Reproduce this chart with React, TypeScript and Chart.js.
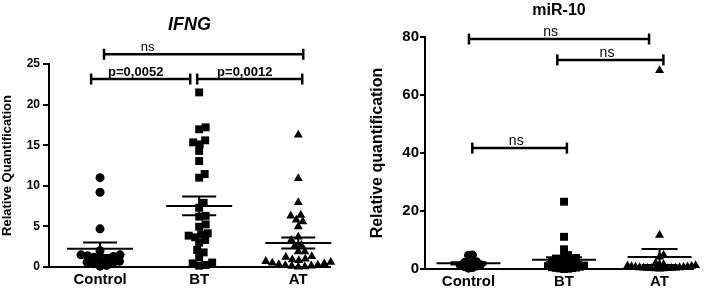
import React, { useEffect, useRef } from 'react';
import { Chart, registerables } from 'chart.js';

Chart.register(...registerables);

// ---------- data ----------
const categories = ['Control', 'BT', 'AT'];

// IFNG panel (relative quantification)
const ifngControl = [11.0, 9.2, 4.7, 2.0, 1.5, 1.5, 1.4, 1.3, 1.2, 1.0, 0.9, 0.7, 0.6, 0.5, 0.4, 0.2, 0.1];
const ifngBT = [21.5, 17.2, 16.96, 15.6, 15.35, 15.1, 14.3, 13.05, 11.45, 11.0, 7.9, 7.3, 6.3, 6.2, 5.25, 4.96, 4.15, 4.0, 3.86, 3.66, 3.33, 3.0, 2.1, 1.8, 1.19, 0.55, 0.45, 0.25, 0.16];
const ifngAT = [16.26, 10.9, 7.96, 6.4, 6.28, 5.8, 5.6, 4.97, 3.7, 3.3, 2.7, 2.6, 1.9, 1.9, 1.3, 1.2, 1.0, 0.9, 0.8, 0.7, 0.6, 0.5, 0.4, 0.3, 0.25, 0.2, 0.15, 0.1, 0.05, 0.0];
const ifngYTicksMax = 25;
const ifngYStep = 5;
const ifngBracketLabels = ['ns', 'p=0,0052', 'p=0,0012'];
const ifngBracketSpans = [[0.04, 2.05], [-0.09, 0.91], [0.98, 2.04]];
const ifngBracketLevels = [26.2, 23.15, 23.15];
const ifngBracketLabelX = [0.48, 0.36, 1.46];

// miR-10 panel
const mirControl = [4.8, 4.7, 2.5, 2.2, 2.0, 1.8, 1.5, 1.2, 1.0, 0.8, 0.5, 0.3];
const mirBT = [23.2, 11.1, 6.8, 4.8, 4.2, 3.8, 3.6, 3.4, 3.2, 3.0, 2.8, 2.6, 2.4, 2.2, 2.0, 1.8, 1.6, 1.4, 1.2, 1.0, 0.8, 0.6, 0.5, 0.4, 0.3, 0.2, 0.1, 0.0];
const mirAT = [68.5, 11.7, 4.8, 4.2, 2.0, 1.6, 1.4, 1.2, 1.1, 1.0, 0.9, 0.8, 0.7, 0.6, 0.5, 0.5, 0.4, 0.4, 0.3, 0.3, 0.2, 0.2, 0.1, 0.1, 0.0];
const mirYTicksMax = 80;
const mirYStep = 20;
const mirBracketLabels = ['ns', 'ns', 'ns'];
const mirBracketSpans = [[0.005, 1.89], [0.93, 2.04], [0.04, 1.03]];
const mirBracketLevels = [79.3, 72.1, 41.7];
const mirBracketLabelX = [0.86, 1.45, 0.5];

const pointStyles = ['circle', 'rect', 'triangle'];
const pointRadii = [4.5, 5.6, 5.2];

const FONT = 'Arial, "Liberation Sans", Helvetica, sans-serif';

function mean(a: number[]) {
  return a.reduce((s, v) => s + v, 0) / a.length;
}
function sem(a: number[]) {
  const m = mean(a);
  const v = a.reduce((s, x) => s + (x - m) * (x - m), 0) / (a.length - 1);
  return Math.sqrt(v) / Math.sqrt(a.length);
}

// greedy beeswarm in pixel space, returns horizontal pixel offsets
function swarmOffsets(values: number[], yPix: (v: number) => number, diam: number): number[] {
  const order = values.map((_, i) => i).sort((a, b) => values[a] - values[b]);
  const placed: { x: number; y: number }[] = [];
  const offs = new Array(values.length).fill(0);
  const step = 0.5;
  order.forEach((idx) => {
    const py = yPix(values[idx]);
    let k = 0;
    let chosen = 0;
    while (k < 400) {
      const mag = Math.ceil(k / 2) * step;
      const cand = k % 2 === 1 ? mag : -mag;
      let ok = true;
      for (const p of placed) {
        const dy = p.y - py;
        if (Math.abs(dy) >= diam) continue;
        const dx = p.x - cand;
        if (dx * dx + dy * dy < diam * diam) { ok = false; break; }
      }
      if (ok) { chosen = cand; break; }
      k++;
    }
    placed.push({ x: chosen, y: py });
    offs[idx] = chosen;
  });
  return offs;
}

type PanelCfg = {
  groups: number[][];
  yMax: number;
  yStep: number;
  xMin: number;
  xMax: number;
  padTop: number;
  padRight: number;
  yAxisWidth: number;
  xAxisHeight: number;
  tickFont: number;
  xLabelFont: number;
  yTitle: string;
  yTitleFont: number;
  yTitlePad: number;
  tickLength: number;
  tickPadding: number;
  title: string;
  titleFont: string;
  titleY: number;
  bracketLabels: string[];
  bracketSpans: number[][];
  bracketLevels: number[];
  bracketLabelX: number[];
  bracketBold: boolean[];
  bracketFont: number;
  meanHalf: number;
  capHalf: number;
  swarmDiam: number;
};

function makeChart(canvas: HTMLCanvasElement, cfg: PanelCfg) {
  const overlay = {
    id: 'overlay',
    afterDatasetsDraw(chart: any) {
      const { ctx } = chart;
      const xs = chart.scales.x;
      const ys = chart.scales.y;
      ctx.save();
      ctx.strokeStyle = '#000';
      ctx.fillStyle = '#000';
      ctx.lineCap = 'butt';
      const seg = (x1: number, y1: number, x2: number, y2: number) => {
        ctx.beginPath();
        ctx.moveTo(x1, y1);
        ctx.lineTo(x2, y2);
        ctx.stroke();
      };
      // mean ± SEM
      ctx.lineWidth = 2;
      cfg.groups.forEach((vals, i) => {
        const m = mean(vals);
        const s = sem(vals);
        const cx = xs.getPixelForValue(i);
        const my = ys.getPixelForValue(m);
        const uy = ys.getPixelForValue(m + s);
        const ly = ys.getPixelForValue(Math.max(m - s, 0));
        seg(cx - cfg.meanHalf, my, cx + cfg.meanHalf, my);
        seg(cx, uy, cx, ly);
        seg(cx - cfg.capHalf, uy, cx + cfg.capHalf, uy);
        seg(cx - cfg.capHalf, ly, cx + cfg.capHalf, ly);
      });
      // brackets
      ctx.lineWidth = 2.5;
      cfg.bracketLabels.forEach((lab, i) => {
        const [a, b] = cfg.bracketSpans[i];
        const x1 = xs.getPixelForValue(a);
        const x2 = xs.getPixelForValue(b);
        const y = ys.getPixelForValue(cfg.bracketLevels[i]);
        seg(x1, y, x2, y);
        seg(x1, y - 5.5, x1, y + 5.5);
        seg(x2, y - 5.5, x2, y + 5.5);
        ctx.font = `${cfg.bracketBold[i] ? 'bold ' : ''}${cfg.bracketFont}px ${FONT}`;
        ctx.textAlign = 'center';
        ctx.textBaseline = 'middle';
        ctx.fillText(lab, xs.getPixelForValue(cfg.bracketLabelX[i]), y - 7);
      });
      // title
      ctx.font = cfg.titleFont;
      ctx.textAlign = 'center';
      ctx.textBaseline = 'middle';
      ctx.fillText(cfg.title, (xs.left + xs.right) / 2, cfg.titleY);
      ctx.restore();
    },
  };

  const chart = new Chart(canvas, {
    type: 'scatter',
    data: {
      datasets: cfg.groups.map((vals, i) => ({
        label: categories[i],
        data: vals.map((v) => ({ x: i, y: v })),
        pointStyle: pointStyles[i] as any,
        pointRadius: pointRadii[i],
        backgroundColor: '#000',
        borderColor: '#000',
        borderWidth: 0,
        clip: false as any,
      })),
    },
    options: {
      animation: false,
      responsive: false,
      maintainAspectRatio: false,
      events: [],
      layout: { padding: { top: cfg.padTop, right: cfg.padRight, left: 0, bottom: 0 } },
      plugins: {
        legend: { display: false },
        tooltip: { enabled: false },
        title: { display: false },
      },
      scales: {
        x: {
          type: 'linear',
          min: cfg.xMin,
          max: cfg.xMax,
          afterBuildTicks: (s: any) => {
            s.ticks = categories.map((_, i) => ({ value: i }));
          },
          afterFit: (s: any) => {
            s.height = cfg.xAxisHeight;
          },
          ticks: {
            callback: (v: any) => categories[v] ?? '',
            font: { family: FONT, size: cfg.xLabelFont, weight: 'bold' },
            color: '#000',
            padding: 4,
            autoSkip: false,
            maxRotation: 0,
          },
          grid: { display: false, drawTicks: false },
          border: { display: true, color: '#000', width: 2 },
        },
        y: {
          type: 'linear',
          min: 0,
          max: cfg.yMax,
          afterFit: (s: any) => {
            s.width = cfg.yAxisWidth;
          },
          ticks: {
            stepSize: cfg.yStep,
            font: { family: FONT, size: cfg.tickFont, weight: 'bold' },
            color: '#000',
            padding: cfg.tickPadding,
          },
          grid: {
            display: true,
            drawOnChartArea: false,
            drawTicks: true,
            tickLength: cfg.tickLength,
            color: '#000',
            lineWidth: 2,
          },
          border: { display: true, color: '#000', width: 2 },
          title: {
            display: true,
            text: cfg.yTitle,
            color: '#000',
            font: { family: FONT, size: cfg.yTitleFont, weight: 'bold' },
            padding: { top: cfg.yTitlePad, bottom: 0 },
          },
        },
      },
    } as any,
    plugins: [overlay],
  });

  const xs: any = chart.scales.x;
  const ys: any = chart.scales.y;
  const pxPerX = xs.getPixelForValue(1) - xs.getPixelForValue(0);
  cfg.groups.forEach((vals, i) => {
    const offs = swarmOffsets(vals, (v) => ys.getPixelForValue(v), cfg.swarmDiam);
    (chart.data.datasets[i] as any).data = vals.map((v, j) => ({ x: i + offs[j] / pxPerX, y: v }));
  });
  chart.update('none');
  return chart;
}

export default function App() {
  const leftRef = useRef<HTMLCanvasElement>(null);
  const rightRef = useRef<HTMLCanvasElement>(null);

  useEffect(() => {
    const c1 = makeChart(leftRef.current!, {
      groups: [ifngControl, ifngBT, ifngAT],
      yMax: ifngYTicksMax,
      yStep: ifngYStep,
      xMin: -0.515,
      xMax: 2.32,
      padTop: 64,
      padRight: 15,
      yAxisWidth: 49,
      xAxisHeight: 22,
      tickFont: 12,
      xLabelFont: 15,
      yTitle: 'Relative Quantification',
      yTitleFont: 13,
      yTitlePad: 0,
      tickLength: 6,
      tickPadding: 3,
      title: 'IFNG',
      titleFont: `italic bold 18px ${FONT}`,
      titleY: 25,
      bracketLabels: ifngBracketLabels,
      bracketSpans: ifngBracketSpans,
      bracketLevels: ifngBracketLevels,
      bracketLabelX: ifngBracketLabelX,
      bracketBold: [false, true, true],
      bracketFont: 13,
      meanHalf: 33,
      capHalf: 17,
      swarmDiam: 6.5,
    });
    const c2 = makeChart(rightRef.current!, {
      groups: [mirControl, mirBT, mirAT],
      yMax: mirYTicksMax,
      yStep: mirYStep,
      xMin: -0.455,
      xMax: 2.35,
      padTop: 37,
      padRight: 16,
      yAxisWidth: 70,
      xAxisHeight: 20,
      tickFont: 15,
      xLabelFont: 15,
      yTitle: 'Relative quantification',
      yTitleFont: 16,
      yTitlePad: 13,
      tickLength: 5,
      tickPadding: 1,
      title: 'miR-10',
      titleFont: `bold 16px ${FONT}`,
      titleY: 11,
      bracketLabels: mirBracketLabels,
      bracketSpans: mirBracketSpans,
      bracketLevels: mirBracketLevels,
      bracketLabelX: mirBracketLabelX,
      bracketBold: [false, false, false],
      bracketFont: 14,
      meanHalf: 32,
      capHalf: 18,
      swarmDiam: 4,
    });
    return () => {
      c1.destroy();
      c2.destroy();
    };
  }, []);

  return (
    <div style={{ position: 'fixed', left: 0, top: 0, width: 709, height: 289, background: '#fff' }}>
      <canvas ref={leftRef} width={345} height={289} style={{ position: 'absolute', left: 0, top: 0, width: 345, height: 289 }} />
      <canvas ref={rightRef} width={354} height={289} style={{ position: 'absolute', left: 355, top: 0, width: 354, height: 289 }} />
    </div>
  );
}
